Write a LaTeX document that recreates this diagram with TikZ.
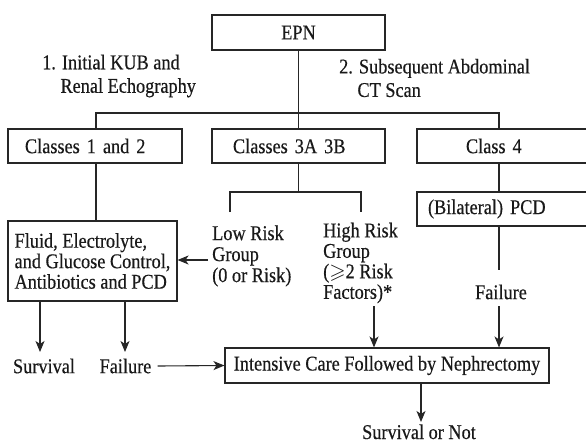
\documentclass[tikz,border=0pt]{standalone}
\usepackage{amssymb}
\usepackage{fontspec}
\setmainfont{Liberation Serif}[FakeStretch=0.87, FakeBold=0.4]
\usetikzlibrary{arrows.meta}
\begin{document}
\begin{tikzpicture}[x=1pt,y=-1pt,
  every node/.style={font=\fontsize{21}{20.5}\selectfont, text=black!90},
  box/.style={draw=black!85, line width=1.1pt, inner ysep=0pt},
  txt/.style={inner sep=0pt, align=left},
  conn/.style={draw=black!85, line width=1.1pt},
  arr/.style={conn, -{Stealth[length=11pt,width=9pt,inset=3pt]}}]
\useasboundingbox (0,0) rectangle (586,445);
% top
\node[box, minimum width=173pt, minimum height=35pt] (epn) at (298.5,32.5) {EPN};
\node[txt, anchor=west, font=\fontsize{21}{23.5}\selectfont] (lab1) at (42,76) {1. Initial KUB and\\\hphantom{1.}\ Renal Echography};
\node[txt, anchor=west, font=\fontsize{21}{23.5}\selectfont] (lab2) at (339,78) {2. Subsequent Abdominal\\\hphantom{2.}\ CT Scan};
% class row
\node[box, text width=140pt, inner xsep=17pt, minimum height=34pt, align=left] (c12) at (95,146) {Classes 1 and 2};
\node[box, text width=131pt, inner xsep=21pt, minimum height=34pt, align=left] (c3) at (298.5,146) {Classes 3A 3B};
\node[box, text width=85pt, inner xsep=49pt, minimum height=34pt, align=left] (c4) at (508.5,146) {Class 4};
\coordinate (busL) at (96,113);
\coordinate (busR) at (499,113);
\draw[conn] (epn.south) -- (c3.north);
\draw[conn] (busL |- c12.north) -- (busL) -- (busR) -- (busR |- c4.north);
% classes 1 and 2
\node[box, minimum width=169pt, minimum height=80pt, align=left] (fluid) at (92.5,261) {Fluid, Electrolyte,\\and Glucose Control,\\Antibiotics and PCD};
\draw[conn] (busL |- c12.south) -- (busL |- fluid.north);
% classes 3A 3B
\coordinate (spL) at (230,192);
\coordinate (spR) at (361,192);
\coordinate (lowTop) at (230,212);
\coordinate (highTop) at (361,212);
\draw[conn] (c3.south) -- (c3.south |- spL);
\draw[conn] (lowTop) -- (spL) -- (spR) -- (highTop);
\node[txt, anchor=west, font=\fontsize{21}{21}\selectfont] (low) at (212,256) {Low Risk\\Group\\(0 or Risk)};
\node[txt, anchor=west, font=\fontsize{21}{20.5}\selectfont] (high) at (323,263) {High Risk\\Group\\(\(\geqslant\)2 Risk\\Factors)*};
\coordinate (la) at (208,260);
\draw[arr] (la) -- (la -| fluid.east);
% class 4
\node[box, text width=161pt, inner xsep=11pt, minimum height=34pt, align=left] (pcd) at (508.5,209) {(Bilateral) PCD};
\draw[conn] (c4.south -| busR) -- (pcd.north -| busR);
\coordinate (pe) at (499,270);
\draw[conn] (pcd.south -| busR) -- (pe);
\node[txt] (fail2) at (501,292) {Failure};
% bottom
\node[box, minimum width=324pt, minimum height=35pt] (int) at (387,365.5) {Intensive Care Followed by Nephrectomy};
\coordinate (f2a) at (499,306);
\coordinate (hx) at (374,306);
\draw[arr] (f2a) -- (int.north -| f2a);
\draw[arr] (hx) -- (int.north -| hx);
\coordinate (a1) at (40,352);
\coordinate (a2) at (125,352);
\draw[arr] (fluid.south -| a1) -- (a1);
\draw[arr] (fluid.south -| a2) -- (a2);
\node[txt] (surv) at (44,366) {Survival};
\node[txt] (fail1) at (125.5,366) {Failure};
\draw[arr] ([xshift=6pt]fail1.east) -- (int.west);
\coordinate (da) at (421,422);
\draw[arr] (int.south -| da) -- (da);
\node[txt, anchor=base] (sn) at (419,439) {Survival or Not};
\end{tikzpicture}
\end{document}
